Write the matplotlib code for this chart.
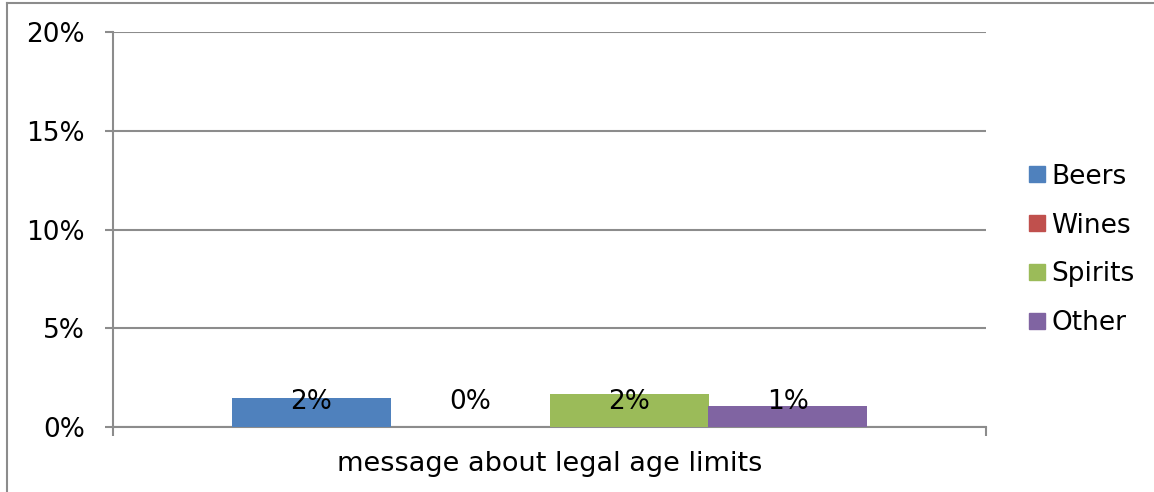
import matplotlib
matplotlib.use("Agg")
import matplotlib.pyplot as plt
from matplotlib.lines import Line2D
from matplotlib.ticker import FuncFormatter

category = "message about legal age limits"
series = ["Beers", "Wines", "Spirits", "Other"]
values = [1.47, 0.0, 1.67, 1.06]
labels = ["2%", "0%", "2%", "1%"]
colors = ["#4F81BD", "#C0504D", "#9BBB59", "#8064A2"]
yticks = [0, 5, 10, 15, 20]

W, H = 1154, 492
plt.rcParams['font.family'] = ['DejaVu Sans']
fig = plt.figure(figsize=(W / 100, H / 100), dpi=100)

x0, x1 = 113, 986
y0, y1 = 427, 32
ax = fig.add_axes([x0 / W, 1 - y0 / H, (x1 - x0) / W, (y0 - y1) / H])

bar_w = 159 / 873
gap = (1 - 4 * bar_w) / 2
for i, (s, v, c, lab) in enumerate(zip(series, values, colors, labels)):
    xc = gap + bar_w * (i + 0.5)
    ax.bar(xc, v, width=bar_w, color=c, label=s, zorder=3)
    ax.text(xc, 1.27, lab, ha='center', va='center', fontsize=19, color='black', zorder=4)

ax.set_xlim(0, 1)
ax.set_ylim(0, 20)
ax.set_yticks(yticks)
ax.yaxis.set_major_formatter(FuncFormatter(lambda v, p: f"{int(v)}%"))
ax.grid(axis='y', color='#8C8C8C', linewidth=1.5, zorder=0)
ax.set_axisbelow(True)
for sp in ['top', 'right']:
    ax.spines[sp].set_visible(False)
for sp in ['left', 'bottom']:
    ax.spines[sp].set_color('#8C8C8C')
    ax.spines[sp].set_linewidth(1.5)
ax.tick_params(axis='y', length=6, width=1.5, color='#8C8C8C', labelsize=19, pad=14)
ax.set_xticks([0, 1])
ax.set_xticklabels(["", ""])
ax.tick_params(axis='x', length=6.5, width=1.5, color='#8C8C8C')
ax.set_xlabel(category, fontsize=19.5, labelpad=7)

handles = [plt.Rectangle((0, 0), 1, 1, color=c) for c in colors]
fig.legend(handles, series, loc='center left', bbox_to_anchor=(1011 / W, 1 - 250 / H),
           frameon=False, fontsize=19, handlelength=0.57, handleheight=0.57,
           handletextpad=0.25, labelspacing=0.87, borderpad=0.2)

# outer chart border (top and left)
fig.add_artist(Line2D([7 / W, 1], [1 - 3 / H, 1 - 3 / H], color='#8C8C8C', linewidth=1.5))
fig.add_artist(Line2D([7 / W, 7 / W], [0, 1 - 3 / H], color='#8C8C8C', linewidth=1.5))

fig.savefig("out.png", dpi=100)
